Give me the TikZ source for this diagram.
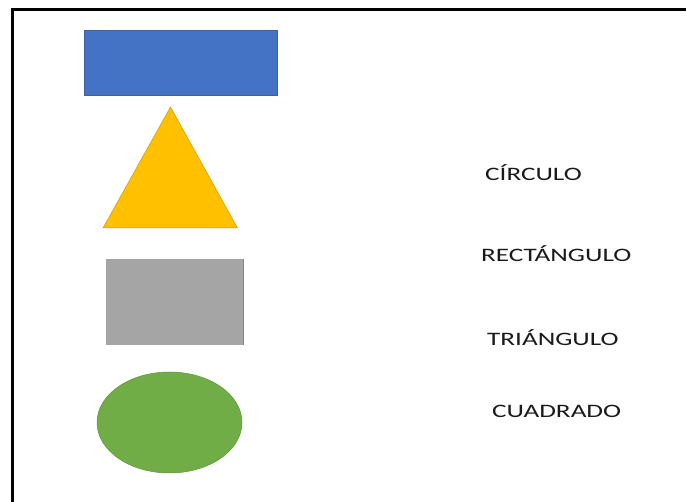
\documentclass[tikz,border=0pt]{standalone}
\usepackage{fontspec}
\setmainfont{Carlito}
\usetikzlibrary{shapes.geometric}
\definecolor{blueA}{HTML}{4472C4}
\definecolor{gold}{HTML}{FFC000}
\definecolor{goldE}{HTML}{C99A10}
\definecolor{grayA}{HTML}{A5A5A5}
\definecolor{greenA}{HTML}{70AD47}
\definecolor{greenE}{HTML}{5E9438}
\definecolor{txt}{HTML}{1A1A1A}
\tikzset{
  lbl/.style={anchor=base west, inner sep=0pt, text=txt, font=\fontsize{19}{21}\selectfont},
  frame/.style={line width=3pt, black}
}
\newcommand{\wide}[1]{\scalebox{1.43}[1]{#1}}
\begin{document}
\begin{tikzpicture}[x=1pt,y=-1pt]
\useasboundingbox (0,0) rectangle (686,502);
\fill[white] (0,0) rectangle (686,502);
% frame
\coordinate (fbl) at (12.5,502);
\coordinate (ftl) at (12.5,9.8);
\coordinate (ftr) at (686,9.8);
\draw[frame] (fbl) -- (ftl) -- (ftr);
% blue rectangle
\node[draw=blueA!85!black, line width=0.4pt, fill=blueA, minimum width=193pt, minimum height=65pt, inner sep=0pt] (rect) at (180.5,62.5) {};
% triangle
\coordinate (tA) at (170.5,107);
\coordinate (tB) at (103,228);
\coordinate (tC) at (237.5,228);
\filldraw[fill=gold, draw=goldE, line width=0.5pt] (tA) -- (tB) -- (tC) -- cycle;
% gray square
\node[fill=grayA, minimum width=137pt, minimum height=86pt, inner sep=0pt] (sq) at (174.5,302) {};
\draw[grayA!80!black, line width=1pt] (sq.north east) -- (sq.south east);
% green ellipse
\node[ellipse, draw=greenE, line width=0.5pt, fill=greenA, minimum width=145pt, minimum height=101pt, inner sep=0pt] (circ) at (169.5,422.5) {};
% labels
\node[lbl] (l1) at (485,181) {\wide{CÍRCULO}};
\node[lbl] (l2) at (481,262) {\wide{RECTÁNGULO}};
\node[lbl] (l3) at (487,346) {\wide{TRIÁNGULO}};
\node[lbl] (l4) at (492,418) {\wide{CUADRADO}};
\end{tikzpicture}
\end{document}
